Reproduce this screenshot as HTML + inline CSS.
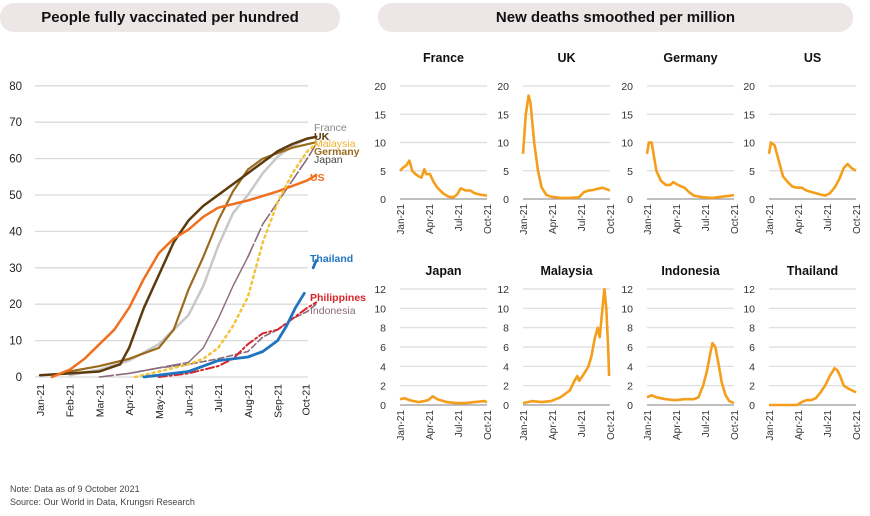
<!DOCTYPE html>
<html><head><meta charset="utf-8"><style>
body{margin:0;background:#fff;width:870px;height:516px;overflow:hidden;font-family:"Liberation Sans",sans-serif;}
.pill{position:absolute;top:3px;height:29px;background:#ece6e6;border-radius:14px;font-weight:bold;font-size:15px;color:#111;text-align:center;line-height:29px;}
.note{position:absolute;left:10px;font-size:9px;color:#444;}
</style></head><body>
<div class="pill" style="left:0;width:340px">People fully vaccinated per hundred</div>
<div class="pill" style="left:378px;width:475px">New deaths smoothed per million</div>
<div class="note" style="top:484px">Note: Data as of 9 October 2021</div>
<div class="note" style="top:497px">Source: Our World in Data, Krungsri Research</div>
<svg id="s" width="870" height="516" style="position:absolute;left:0;top:0" font-family="Liberation Sans, sans-serif"></svg>
<script>
var o='';
function X(m){return 40+29.7*m}function Y(v){return 377-3.64*v}
for(var v=0;v<=80;v+=10){o+='<line x1="35" x2="308" y1="'+Y(v)+'" y2="'+Y(v)+'" stroke="#d9d9d9" stroke-width="1.3"/>';o+='<text x="22" y="'+(Y(v)+4)+'" font-size="11.5" text-anchor="end" fill="#222">'+v+'</text>';}
var mo=['Jan-21','Feb-21','Mar-21','Apr-21','May-21','Jun-21','Jul-21','Aug-21','Sep-21','Oct-21'];
for(var i=0;i<10;i++){var x=X(i)+(i==9?-2:0);o+='<text transform="translate('+(x+4)+',384) rotate(-90)" font-size="10.5" text-anchor="end" fill="#222">'+mo[i]+'</text>';}
function pl(p,c,w,d){var s=p.map(function(q){return X(q[0]).toFixed(1)+','+Y(q[1]).toFixed(1)}).join(' ');o+='<polyline points="'+s+'" fill="none" stroke="'+c+'" stroke-width="'+w+'" stroke-linejoin="round" stroke-linecap="round"'+(d?' stroke-dasharray="'+d+'"':'')+'/>';}
pl([[3,1],[4,2.5],[5,3.5],[6,5],[7,7],[7.5,11],[8,13],[8.5,16],[9,18],[9.3,20]],'#8a6a7a',1.6,'6,3');
pl([[1,0.5],[2,2],[3,4.5],[4,9],[4.5,13],[5,17],[5.5,25],[6,36],[6.5,45],[7,50],[7.5,56],[8,60.5],[8.5,63.5],[9,65.5],[9.3,66]],'#c8c8c8',2.5);
pl([[2,0],[2.5,0.5],[3,1],[4,2.5],[5,4]],'#8a6a7a',1.6,'14,3');
pl([[5,4],[5.5,8],[6,16],[6.5,25],[7,33]],'#8a6a7a',1.4);
pl([[7,33],[7.5,42],[8,48],[8.5,54],[9,60],[9.3,64]],'#8a6a7a',1.6,'14,3');
pl([[0.5,0.5],[1,1.5],[2,3],[3,5],[3.5,6.5],[4,8],[4.5,13],[5,24],[5.5,33],[6,43],[6.5,51],[7,57],[7.5,60],[8,61.5],[8.5,63],[9.3,64.5]],'#9a6b1e',2.2);
pl([[0,0.5],[1,1],[2,1.5],[2.7,3.5],[3,8],[3.5,19],[4,28],[4.5,37],[5,43],[5.5,47],[6,50],[6.5,53],[7,56],[7.5,59],[8,62],[8.5,64],[9,65.5],[9.3,66]],'#5e3b0e',2.5);
pl([[0.4,0],[1,2],[1.5,5],[2,9],[2.5,13],[3,19],[3.5,27],[4,34],[4.5,38],[5,40.5],[5.5,44],[6,46.5],[7,48.5],[8,51],[9,54],[9.3,55.5]],'#f07020',2.5);
pl([[3.2,0],[4,1.5],[5,3.5],[5.5,5],[6,8],[6.5,14],[7,22],[7.5,37],[8,48],[8.5,56],[9,62],[9.3,64]],'#f2c43a',2.5,'2,4');
pl([[4,0],[5,1],[5.5,2],[6,3],[6.5,5],[7,9],[7.5,12],[8,13],[8.5,16],[9,19],[9.3,20.5]],'#d9232a',2,'8,3,2,3');
pl([[3.5,0],[4,0.5],[5,1.5],[5.5,3],[6,4.5],[7,5.5],[7.5,7],[8,10],[8.3,14],[8.6,19],[8.9,23]],'#1f74bf',2.8);
pl([[9.2,30],[9.3,32]],'#1f74bf',2.8);
function lb(t,y,c,b){o+='<text x="'+(t=='US'||t=='Thailand'||t=='Philippines'||t=='Indonesia'?310:314)+'" y="'+y+'" font-size="10.5" fill="'+c+'"'+(b?' font-weight="bold"':'')+'>'+t+'</text>';}
lb('France',131,'#888');lb('UK',140,'#5e3b0e',1);lb('Malaysia',147,'#f2b030');lb('Germany',155,'#9a6b1e',1);lb('Japan',163,'#444');lb('US',181,'#f07020',1);lb('Thailand',262,'#1f74bf',1);lb('Philippines',301,'#d9232a',1);lb('Indonesia',314,'#8a6a7a');
var px=[400,523,647,769],W=87;
var rows=[{y0:199,h:113,max:20,st:5,titles:['France','UK','Germany','US'],ty:62},{y0:405,h:116,max:12,st:2,titles:['Japan','Malaysia','Indonesia','Thailand'],ty:275}];
var data=[
[[0,5],[0.3,5.5],[0.7,6],[1,6.8],[1.3,5],[1.6,4.5],[2,4],[2.3,3.8],[2.6,5.3],[2.8,4.4],[3.2,4.4],[3.6,3],[4,2],[4.6,1],[5.2,0.4],[5.7,0.3],[6.1,0.8],[6.5,1.9],[7,1.5],[7.5,1.5],[8,1],[8.5,0.8],[9.3,0.6]],
[[0,8],[0.3,15],[0.6,18.3],[0.8,17],[1.2,10],[1.6,5],[2,2],[2.5,0.7],[3,0.4],[4,0.2],[5,0.2],[6,0.3],[6.5,1.2],[7,1.5],[7.5,1.6],[8,1.8],[8.5,2],[9,1.7],[9.3,1.5]],
[[0,8],[0.2,10],[0.5,10],[0.7,8],[1,5],[1.5,3.2],[2,2.5],[2.5,2.5],[2.8,3],[3.3,2.5],[4,2],[4.5,1.2],[5,0.6],[6,0.3],[7,0.2],[8,0.4],[9,0.6],[9.3,0.7]],
[[0,8],[0.2,10],[0.6,9.5],[1,7],[1.5,4],[2,3],[2.5,2.2],[3,2],[3.5,2],[4,1.5],[5,1],[6,0.6],[6.5,1],[7,2],[7.5,3.5],[8,5.5],[8.4,6.2],[8.8,5.5],[9.3,5]],
[[0,0.6],[0.5,0.7],[1,0.5],[2,0.3],[3,0.5],[3.5,0.9],[4,0.6],[5,0.3],[6,0.2],[7,0.2],[8,0.3],[9,0.4],[9.3,0.3]],
[[0,0.2],[1,0.4],[2,0.3],[3,0.4],[4,0.8],[5,1.5],[5.5,2.5],[5.8,3],[6,2.5],[6.5,3.2],[7,4],[7.3,5],[7.7,7],[8,8],[8.2,7],[8.5,10],[8.7,12],[8.9,10],[9.1,6],[9.2,3]],
[[0,0.8],[0.5,1],[1,0.8],[2,0.6],[3,0.5],[4,0.6],[5,0.6],[5.5,0.8],[6,2],[6.4,3.5],[6.8,5.5],[7,6.4],[7.3,6],[7.6,4.5],[8,2.3],[8.4,1],[8.8,0.4],[9.3,0.2]],
[[0,0],[3,0],[3.5,0.3],[4,0.5],[4.5,0.5],[5,0.7],[5.5,1.3],[6,2],[6.5,3],[7,3.8],[7.3,3.6],[7.6,3],[8,2],[8.5,1.7],[9.3,1.3]]];
var sm=['Jan-21','Apr-21','Jul-21','Oct-21'];
for(var r=0;r<2;r++){var R=rows[r];for(var p=0;p<4;p++){var x0=px[p];
o+='<text x="'+(x0+W/2)+'" y="'+R.ty+'" font-size="12.5" font-weight="bold" text-anchor="middle" fill="#111">'+R.titles[p]+'</text>';
for(var v=0;v<=R.max;v+=R.st){var y=R.y0-R.h*v/R.max;o+='<line x1="'+x0+'" x2="'+(x0+W)+'" y1="'+y+'" y2="'+y+'" stroke="'+(v?'#dcdcdc':'#999')+'" stroke-width="1.2"/><text x="'+(x0-14)+'" y="'+(y+4)+'" font-size="10.5" text-anchor="end" fill="#333">'+v+'</text>';}
for(var i=0;i<4;i++){var xx=x0+i*W/3;o+='<text transform="translate('+(xx+4)+','+(R.y0+5)+') rotate(-90)" font-size="10" text-anchor="end" fill="#333">'+sm[i]+'</text>';}
var d=data[r*4+p];var s=d.map(function(q){return (x0+q[0]/9.3*W).toFixed(1)+','+(R.y0-R.h*q[1]/R.max).toFixed(1)}).join(' ');
o+='<polyline points="'+s+'" fill="none" stroke="#f59e1b" stroke-width="2.6" stroke-linejoin="round"/>';}}
document.getElementById('s').innerHTML=o;
</script>
</body></html>
